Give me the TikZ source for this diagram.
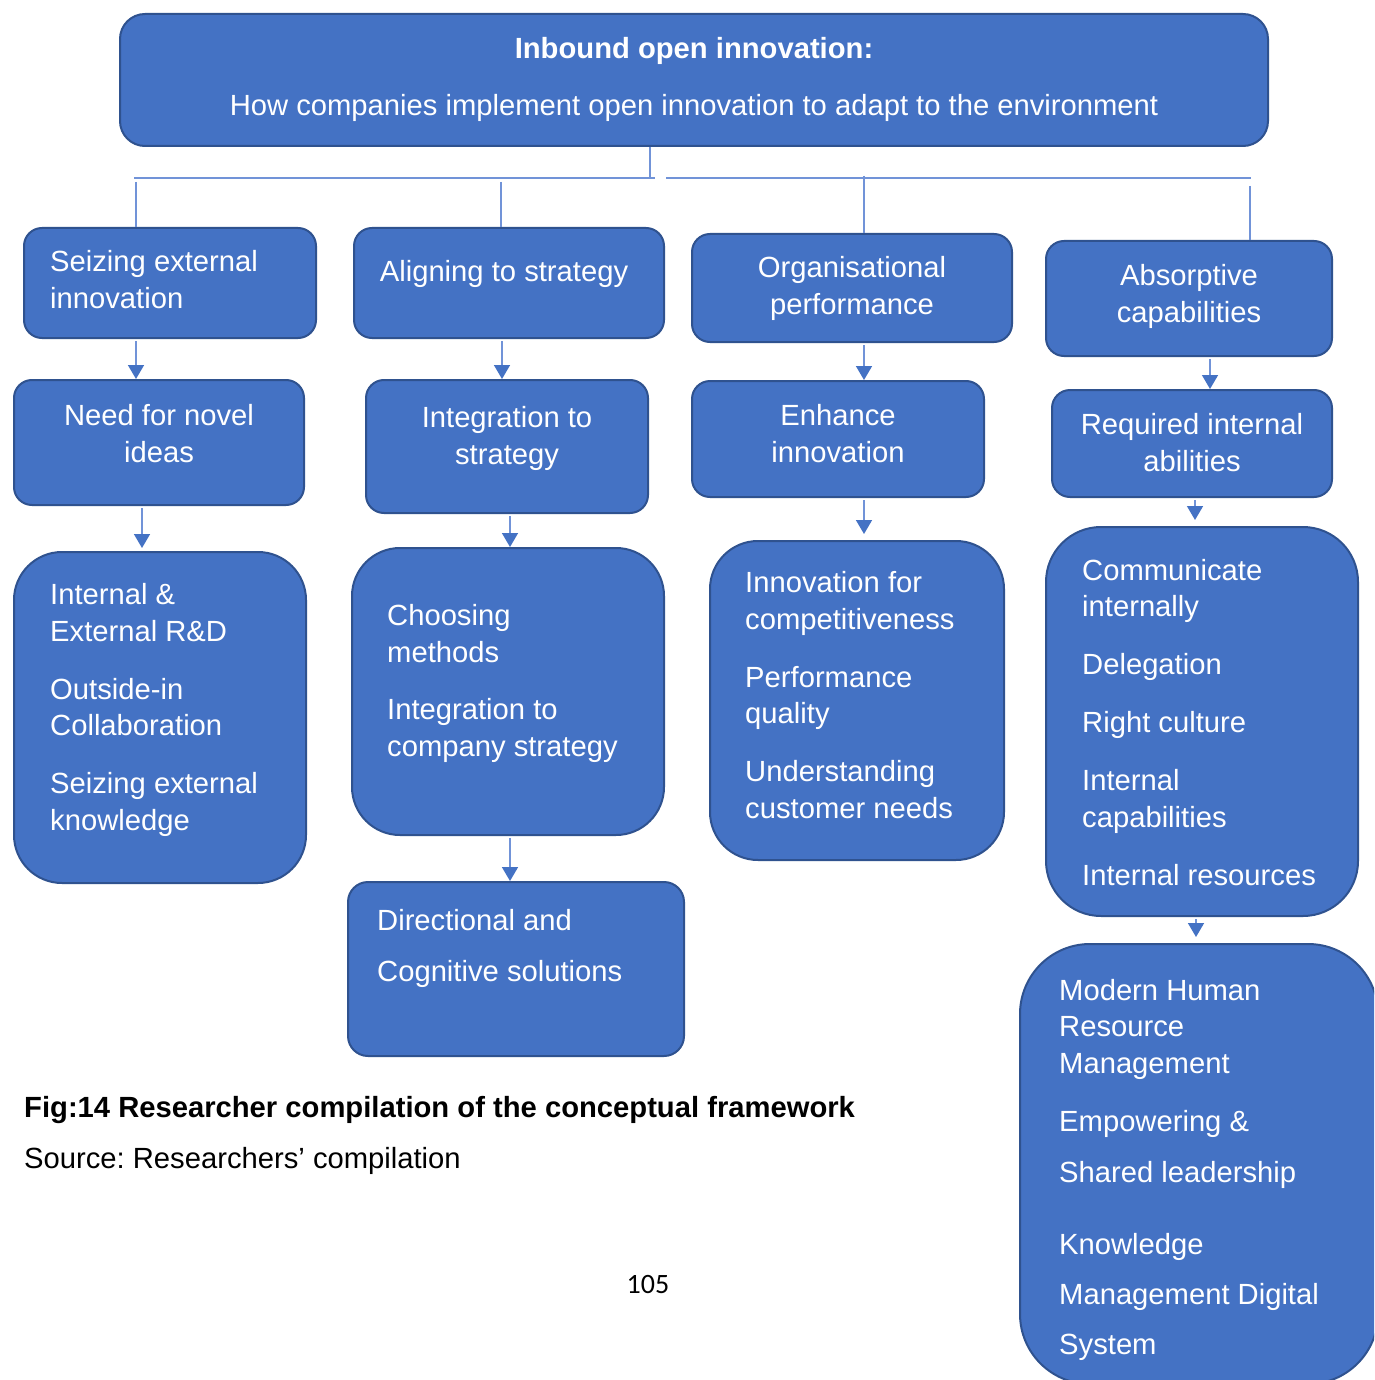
\documentclass[tikz,border=0pt]{standalone}
\usepackage{fontspec}
\setmainfont{Liberation Sans}
\newfontfamily\pagenumfont{Carlito}
\usetikzlibrary{arrows.meta}

\definecolor{boxblue}{HTML}{4472C4}
\definecolor{boxedge}{HTML}{2F528F}
\definecolor{linkblue}{HTML}{7193D8}

\begin{document}
\begin{tikzpicture}[x=1pt, y=-1pt,
    blk/.style={draw=boxedge, fill=boxblue, line width=2pt, rounded corners=#1, inner sep=0pt},
    blk/.default=18pt,
    txt/.style={text=white, font=\fontsize{29.2}{36.5}\selectfont, inner sep=0pt, align=left, anchor=base west},
    ctxt/.style={txt, align=center, anchor=base},
    link/.style={draw=linkblue, line width=1.6pt},
    arr/.style={link, shorten <=2pt, -{Triangle[width=16pt,length=14pt,color=boxblue]}}]
\useasboundingbox (0,0) rectangle (1374,1380);
\clip (0,0) rectangle (1374,1380);
\fill[white] (0,0) rectangle (1374,1380);

% top box (text nodes sit on the baseline of their last line)
\node[blk=25pt, minimum width=1148pt, minimum height=132pt] (top) at (694,80) {};
\node[ctxt] (topt) at (694,116) {\textbf{Inbound open innovation:}\\[20.5pt]How companies implement open innovation to adapt to the environment};

% first row
\node[blk, minimum width=292pt, minimum height=110pt] (A1) at (170,283) {};
\node[txt] (A1t) at (50,308) {Seizing external\\innovation};
\node[blk, minimum width=310pt, minimum height=110pt] (B1) at (509,283) {};
\node[ctxt] (B1t) at (504,281) {Aligning to strategy};
\node[blk, minimum width=320pt, minimum height=108pt] (C1) at (852,288) {};
\node[ctxt] (C1t) at (852,314) {Organisational\\performance};
\node[blk, minimum width=286pt, minimum height=115pt] (D1) at (1189,298.5) {};
\node[ctxt] (D1t) at (1189,322) {Absorptive\\capabilities};

% second row
\node[blk, minimum width=290pt, minimum height=125pt] (A2) at (159,442.5) {};
\node[ctxt] (A2t) at (159,462) {Need for novel\\ideas};
\node[blk, minimum width=282pt, minimum height=133pt] (B2) at (507,446.5) {};
\node[ctxt] (B2t) at (507,464) {Integration to\\strategy};
\node[blk, minimum width=292pt, minimum height=116pt] (C2) at (838,439) {};
\node[ctxt] (C2t) at (838,462) {Enhance\\innovation};
\node[blk, minimum width=280pt, minimum height=107pt] (D2) at (1192,443.5) {};
\node[ctxt] (D2t) at (1192,471) {Required internal\\abilities};

% third row
\node[blk=48pt, minimum width=292pt, minimum height=331pt] (A3) at (160,717.5) {};
\node[txt] (A3t) at (50,830) {Internal \&\\External R\&D\\[21.5pt]Outside-in\\Collaboration\\[21.5pt]Seizing external\\knowledge};
\node[blk=48pt, minimum width=312pt, minimum height=287pt] (B3) at (508,691.5) {};
\node[txt] (B3t) at (387,756) {Choosing\\methods\\[21pt]Integration to\\company strategy};
\node[blk=48pt, minimum width=294pt, minimum height=319pt] (C3) at (857,700.5) {};
\node[txt] (C3t) at (745,818) {Innovation for\\competitiveness\\[21.5pt]Performance\\quality\\[21.5pt]Understanding\\customer needs};
\node[blk=55pt, minimum width=312pt, minimum height=389pt] (D3) at (1202,721.5) {};
\node[txt] (D3t) at (1082,885) {Communicate\\internally\\[21.5pt]Delegation\\[21.5pt]Right culture\\[21.5pt]Internal\\capabilities\\[21.5pt]Internal resources};

% last boxes
\node[blk=20pt, minimum width=336pt, minimum height=174pt] (B4) at (516,969) {};
\node[txt] (B4t) at (377,981) {Directional and\\[14.5pt]Cognitive solutions};
\node[blk=70pt, minimum width=358pt, minimum height=440pt] (D4) at (1199,1164) {};
\node[txt] (D4t) at (1059,1354) {Modern Human\\Resource\\Management\\[21.5pt]Empowering \&\\[14.5pt]Shared leadership\\[35.5pt]Knowledge\\[13.5pt]Management Digital\\[13.5pt]System};

% links from the top box
\coordinate (hub) at (650,178);
\draw[link] (hub |- top.south) -- (hub);
\draw[link] (134,178) -- (655,178);
\draw[link] (666,178) -- (1251,178);
\draw[link] (136,182) -- (136,0 |- A1.north);
\draw[link] (501,182) -- (501,0 |- B1.north);
\draw[link] (864,176) -- (864,0 |- C1.north);
\draw[link] (1250,186) -- (1250,0 |- D1.north);

% arrows down the columns
\draw[arr] (136,0 |- A1.south) -- (136,0 |- A2.north);
\draw[arr, shorten >=3pt] (142,0 |- A2.south) -- (142,0 |- A3.north);
\draw[arr] (502,0 |- B1.south) -- (502,0 |- B2.north);
\draw[arr] (510,0 |- B2.south) -- (510,0 |- B3.north);
\draw[arr] (510,0 |- B3.south) -- (510,0 |- B4.north);
\draw[arr] (864,0 |- C1.south) -- (864,0 |- C2.north);
\draw[arr, shorten >=6pt] (864,0 |- C2.south) -- (864,0 |- C3.north);
\draw[arr] (1210,0 |- D1.south) -- (1210,0 |- D2.north);
\draw[arr, shorten >=6pt] (1195,0 |- D2.south) -- (1195,0 |- D3.north);
\draw[arr, shorten >=6pt] (1196,0 |- D3.south) -- (1196,0 |- D4.north);

% caption and page number
\node[anchor=base west, inner sep=0pt, font=\bfseries\fontsize{29.2}{36}\selectfont] (cap) at (24,1117) {Fig:14 Researcher compilation of the conceptual framework};
\node[anchor=base west, inner sep=0pt, font=\fontsize{29.2}{36}\selectfont\frenchspacing] (src) at (24,1168) {Source: Researchers’ compilation};
\node[anchor=base, inner sep=0pt, font=\pagenumfont\fontsize{28}{34}\selectfont] (pg) at (648,1293) {105};
\end{tikzpicture}
\end{document}
